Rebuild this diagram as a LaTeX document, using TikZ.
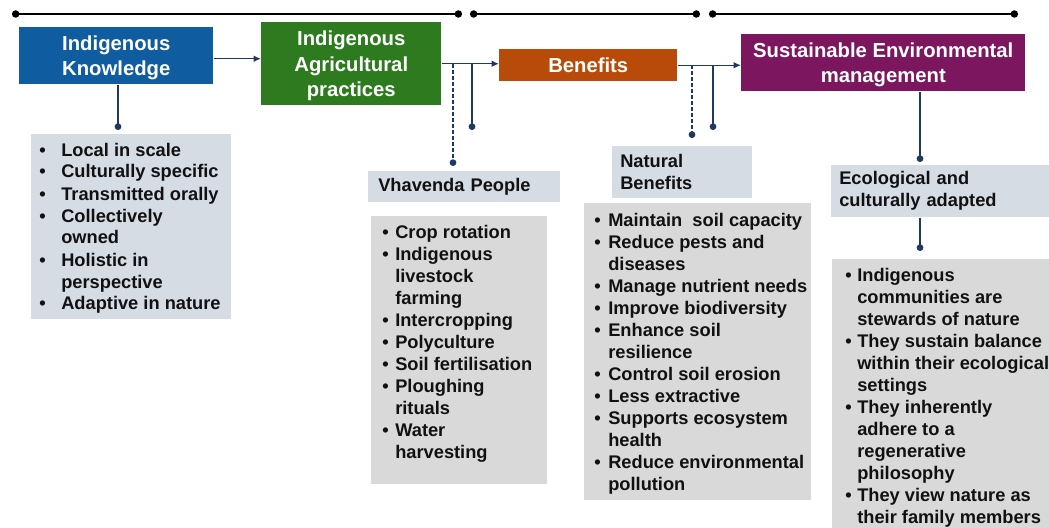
\documentclass[tikz,border=0pt]{standalone}
\usepackage{fontspec}
\setmainfont{Liberation Sans}
\usetikzlibrary{arrows.meta}

\definecolor{ikblue}{HTML}{0F5CA0}
\definecolor{iagreen}{HTML}{2E7A1F}
\definecolor{benorange}{HTML}{B84A0A}
\definecolor{sempurple}{HTML}{7C175F}
\definecolor{navy}{HTML}{1F3864}
\definecolor{paleblue}{HTML}{D6DCE4}
\definecolor{palegrey}{HTML}{D9D9D9}
\definecolor{ink}{HTML}{111111}

\newcommand\hdfont{\fontsize{15.2}{19}\selectfont\bfseries}
\newcommand\lsfont{\fontsize{13.7}{16.5}\selectfont\bfseries}

\begin{document}
\begin{tikzpicture}[x=0.75pt,y=-0.75pt,
  headbox/.style={rectangle, anchor=north west, inner sep=0pt, text=white, font=\hdfont, align=center, text depth=0pt},
  subbox/.style={rectangle, anchor=north west, fill=paleblue, inner ysep=0pt, inner xsep=6pt, text=ink, font=\lsfont, align=left},
  listbox/.style={rectangle, anchor=north west, inner sep=0pt},
  listtext/.style={anchor=base west, inner sep=0pt, text=ink, font=\lsfont},
  flow/.style={navy, line width=1.1pt, -{Latex[length=5.5pt,width=5pt]}},
  drop/.style={navy, line width=1.1pt, -{Circle[length=5pt]}},
  dropdash/.style={drop, dash pattern=on 3pt off 1.5pt},
  topline/.style={black, line width=1.5pt, {Circle[length=5.5pt]}-{Circle[length=5.5pt]}},
]
\useasboundingbox (0,0) rectangle (1049,528);

% timeline rule along the top
\coordinate (r1a) at (12,14);
\coordinate (r1b) at (462,14);
\coordinate (r2a) at (470,14);
\coordinate (r2b) at (700,14);
\coordinate (r3a) at (709,14);
\coordinate (r3b) at (1018,14);
\draw[topline] (r1a) -- (r1b);
\draw[topline] (r2a) -- (r2b);
\draw[topline] (r3a) -- (r3b);

% main stages
\node[headbox, fill=ikblue, minimum width=145.5pt, minimum height=42.75pt] (ik) at (19,27) {Indigenous\\Knowledge};
\node[headbox, fill=iagreen, minimum width=135pt, minimum height=62.25pt] (ia) at (261,22) {Indigenous\\Agricultural\\practices};
\node[headbox, fill=benorange, minimum width=133.5pt, minimum height=24pt] (ben) at (499,49) {Benefits};
\node[headbox, fill=sempurple, minimum width=213pt, minimum height=42.75pt] (sem) at (741,34) {Sustainable Environmental\\management};

% flow between stages
\coordinate (ikout) at ([yshift=-2.25pt]ik.east);
\draw[flow] (ikout) -- (ikout -| ia.west);
\draw[flow] (ia.east) -- (ia.east -| ben.west);
\draw[flow] (ben.east) -- (ben.east -| sem.west);

% sub-headings
\node[subbox, inner xsep=7.5pt, text width=129pt, minimum height=23.25pt] (vp) at (368,171) {Vhavenda People};
\node[subbox, text width=93pt, minimum height=39pt] (nb) at (612,146) {Natural\\Benefits};
\node[subbox, text width=151.5pt, minimum height=39pt] (eco) at (831,165) {Ecological and\\culturally adapted};

% list panels
\node[listbox, fill=paleblue, minimum width=150pt, minimum height=138.75pt] (kbox) at (31,134) {};
\node[listbox, fill=palegrey, minimum width=132pt, minimum height=201pt] (pbox) at (371,216) {};
\node[listbox, fill=palegrey, minimum width=170.25pt, minimum height=222.75pt] (bbox) at (584,203) {};
\node[listbox, fill=palegrey, minimum width=162.75pt, minimum height=201.75pt] (sbox) at (832,259) {};

\node[listtext] (klist) at (39,156) {\begin{tabular}[t]{@{}p{16.5pt}@{}l@{}}
• & Local in scale\\
• & Culturally specific\\
• & Transmitted orally\\
• & Collectively\\
  & owned\\
• & Holistic in\\
  & perspective\\
• & Adaptive in nature
\end{tabular}};

\node[listtext] (plist) at (382,238) {\begin{tabular}[t]{@{}p{9.75pt}@{}l@{}}
• & Crop rotation\\
• & Indigenous\\
  & livestock\\
  & farming\\
• & Intercropping\\
• & Polyculture\\
• & Soil fertilisation\\
• & Ploughing\\
  & rituals\\
• & Water\\
  & harvesting
\end{tabular}};

\node[listtext] (blist) at (594,226.5) {\begin{tabular}[t]{@{}p{10.5pt}@{}l@{}}
• & Maintain\ \ soil capacity\\
• & Reduce pests and\\
  & diseases\\
• & Manage nutrient needs\\
• & Improve biodiversity\\
• & Enhance soil\\
  & resilience\\
• & Control soil erosion\\
• & Less extractive\\
• & Supports ecosystem\\
  & health\\
• & Reduce environmental\\
  & pollution
\end{tabular}};

\node[listtext] (slist) at (845,281) {\begin{tabular}[t]{@{}p{9pt}@{}l@{}}
• & Indigenous\\
  & communities are\\
  & stewards of nature\\
• & They sustain balance\\
  & within their ecological\\
  & settings\\
• & They inherently\\
  & adhere to a\\
  & regenerative\\
  & philosophy\\
• & They view nature as\\
  & their family members
\end{tabular}};

% drop connectors ending in dots
\coordinate (ikdot) at (118,130);
\draw[drop] (ikdot |- ik.south) -- (ikdot);
\coordinate (vpdot) at (453,166);
\draw[dropdash] (vpdot |- ia.east) -- (vpdot);
\coordinate (iadot) at (472,130);
\draw[drop] (iadot |- ia.east) -- (iadot);
\coordinate (nbdot) at (692,138);
\draw[dropdash] (nbdot |- ben.east) -- (nbdot);
\coordinate (bendot) at (713,130);
\draw[drop] (bendot |- ben.east) -- (bendot);
\coordinate (semdot) at (920,162);
\draw[drop] (semdot |- sem.south) -- (semdot);
\coordinate (ecodot) at (920,251);
\draw[drop] (ecodot |- eco.south) -- (ecodot);
\end{tikzpicture}
\end{document}
